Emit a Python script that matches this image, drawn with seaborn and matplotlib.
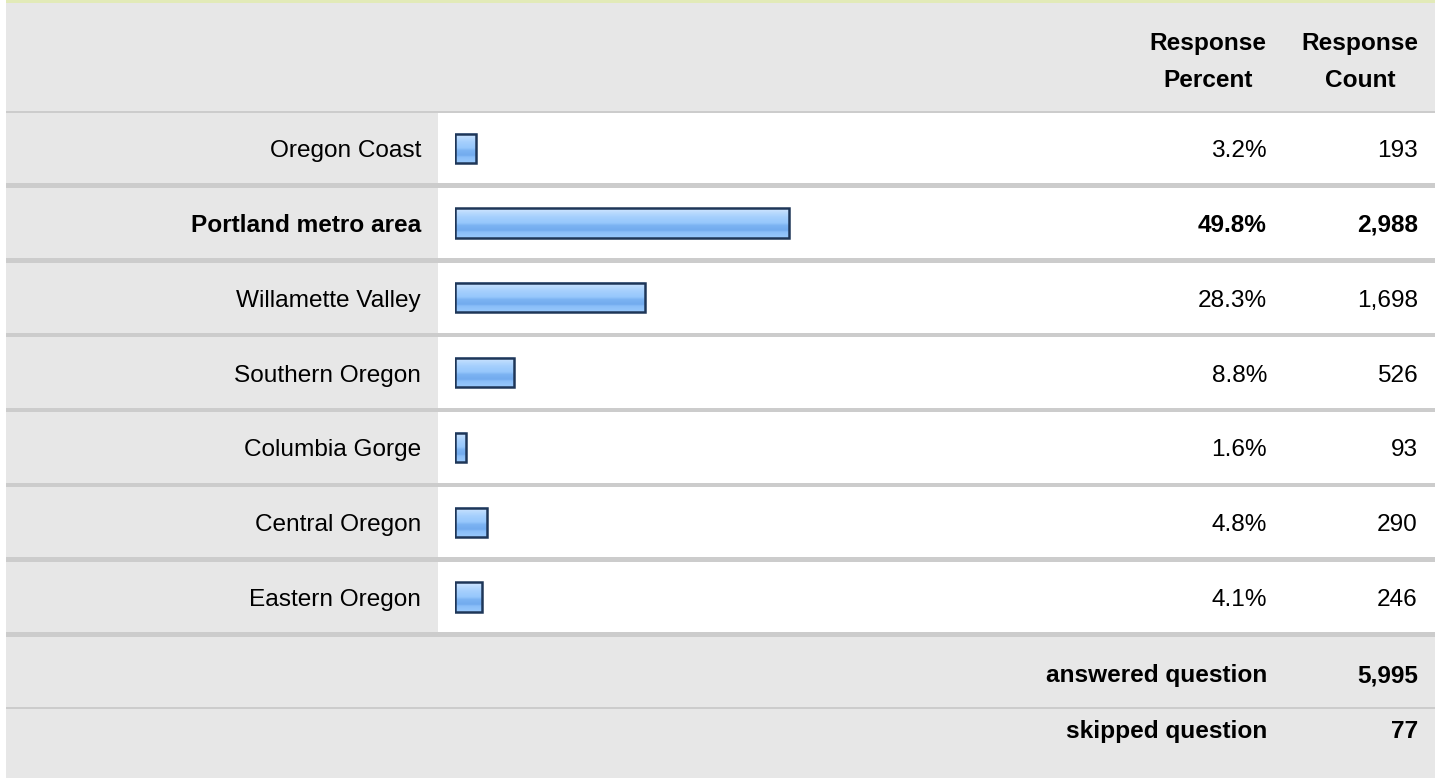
import numpy as np
import matplotlib
matplotlib.use("Agg")
import matplotlib.pyplot as plt
from matplotlib.colors import LinearSegmentedColormap
from matplotlib.patches import Rectangle
import pandas as pd
import seaborn as sns

# Data
regions = ["Oregon Coast", "Portland metro area", "Willamette Valley", "Southern Oregon",
           "Columbia Gorge", "Central Oregon", "Eastern Oregon"]
percents = [3.2, 49.8, 28.3, 8.8, 1.6, 4.8, 4.1]
counts = [193, 2988, 1698, 526, 93, 290, 246]
answered = 5995
skipped = 77

W, H = 1442, 778
GRAY = "#e7e7e7"
SEP = "#cccccc"
TXT = "#000000"
FS = 17.6

sns.set_theme(style="white")
plt.rcParams["font.family"] = ["Liberation Sans", "DejaVu Sans"]

fig = plt.figure(figsize=(W / 100, H / 100), dpi=100)
fig.patch.set_facecolor("white")

# background table in pixel coordinates
bg = fig.add_axes([0, 0, 1, 1])
bg.set_xlim(0, W)
bg.set_ylim(H, 0)
bg.axis("off")

L, R = 6, 1435
pitch = 74.8
row0 = 113
rowh = 70.3
n = len(regions)

# top border and header
bg.add_patch(Rectangle((L, 0), R - L, 3, color="#e2eab8", lw=0))
bg.add_patch(Rectangle((L, 3), R - L, 108, color=GRAY, lw=0))
bg.add_patch(Rectangle((L, 111), R - L, 2, color=SEP, lw=0))
for i in range(n):
    top = row0 + pitch * i
    bg.add_patch(Rectangle((L, top), 438 - L, rowh, color=GRAY, lw=0))
    bg.add_patch(Rectangle((438, top), R - 438, rowh, color="white", lw=0))
    bg.add_patch(Rectangle((L, top + rowh), R - L, pitch - rowh, color=SEP, lw=0))
foot = row0 + pitch * n
bg.add_patch(Rectangle((L, foot), R - L, 70, color=GRAY, lw=0))
bg.add_patch(Rectangle((L, foot + 70), R - L, 2, color=SEP, lw=0))
bg.add_patch(Rectangle((L, foot + 72), R - L, H - foot - 72, color=GRAY, lw=0))

# header text
for x, word in [(1208, "Percent"), (1360, "Count")]:
    bg.text(x, 50, "Response", ha="center", va="baseline", fontsize=FS, fontweight="bold", color=TXT)
    bg.text(x, 87, word, ha="center", va="baseline", fontsize=FS, fontweight="bold", color=TXT)

# row text
top_idx = int(np.argmax(percents))
for i, (name, p, c) in enumerate(zip(regions, percents, counts)):
    yb = row0 + pitch * i + rowh / 2 + 9
    wt = "bold" if i == top_idx else "normal"
    bg.text(421, yb, name, ha="right", va="baseline", fontsize=FS, fontweight=wt, color=TXT)
    bg.text(1267, yb, f"{p:.1f}%", ha="right", va="baseline", fontsize=FS, fontweight=wt, color=TXT)
    bg.text(1418, yb, f"{c:,}", ha="right", va="baseline", fontsize=FS, fontweight=wt, color=TXT)

bg.text(1267, 682, "answered question", ha="right", va="baseline", fontsize=FS, fontweight="bold", color=TXT)
bg.text(1418, 682, f"{answered:,}", ha="right", va="baseline", fontsize=FS, fontweight="bold", color=TXT)
bg.text(1267, 738, "skipped question", ha="right", va="baseline", fontsize=FS, fontweight="bold", color=TXT)
bg.text(1418, 738, f"{skipped:,}", ha="right", va="baseline", fontsize=FS, fontweight="bold", color=TXT)

# bar axes: 1% = 6.7 px
ax_left = 455
ax_top = row0 + rowh / 2 - pitch / 2
ax = fig.add_axes([ax_left / W, 1 - (ax_top + pitch * n) / H, 670 / W, pitch * n / H])
ax.patch.set_alpha(0)

df = pd.DataFrame({"region": regions, "percent": percents})
sns.barplot(data=df, x="percent", y="region", orient="h", width=0.39, ax=ax,
            color="#8fc2fb", edgecolor="#1e3658", linewidth=1.8)

grad_cmap = LinearSegmentedColormap.from_list("bar", [
    (0.0, "#d4e8fe"), (0.15, "#b9dafe"), (0.3, "#a5cffd"), (0.5, "#96c7fc"),
    (0.58, "#7cb3f2"), (0.75, "#72abee"), (0.8, "#89bdf8"), (1.0, "#99c9fc")])
grad = np.linspace(0, 1, 64).reshape(-1, 1)
for patch in ax.patches:
    x0, y0 = patch.get_x(), patch.get_y()
    w, h = patch.get_width(), patch.get_height()
    ax.imshow(grad, cmap=grad_cmap, extent=[x0, x0 + w, y0 + h, y0], aspect="auto",
              zorder=2, interpolation="bilinear")
    patch.set_facecolor("none")
    patch.set_zorder(3)

ax.set_xlim(0, 100)
ax.set_ylim(n - 0.5, -0.5)
ax.axis("off")

fig.savefig("out.png", dpi=100)
